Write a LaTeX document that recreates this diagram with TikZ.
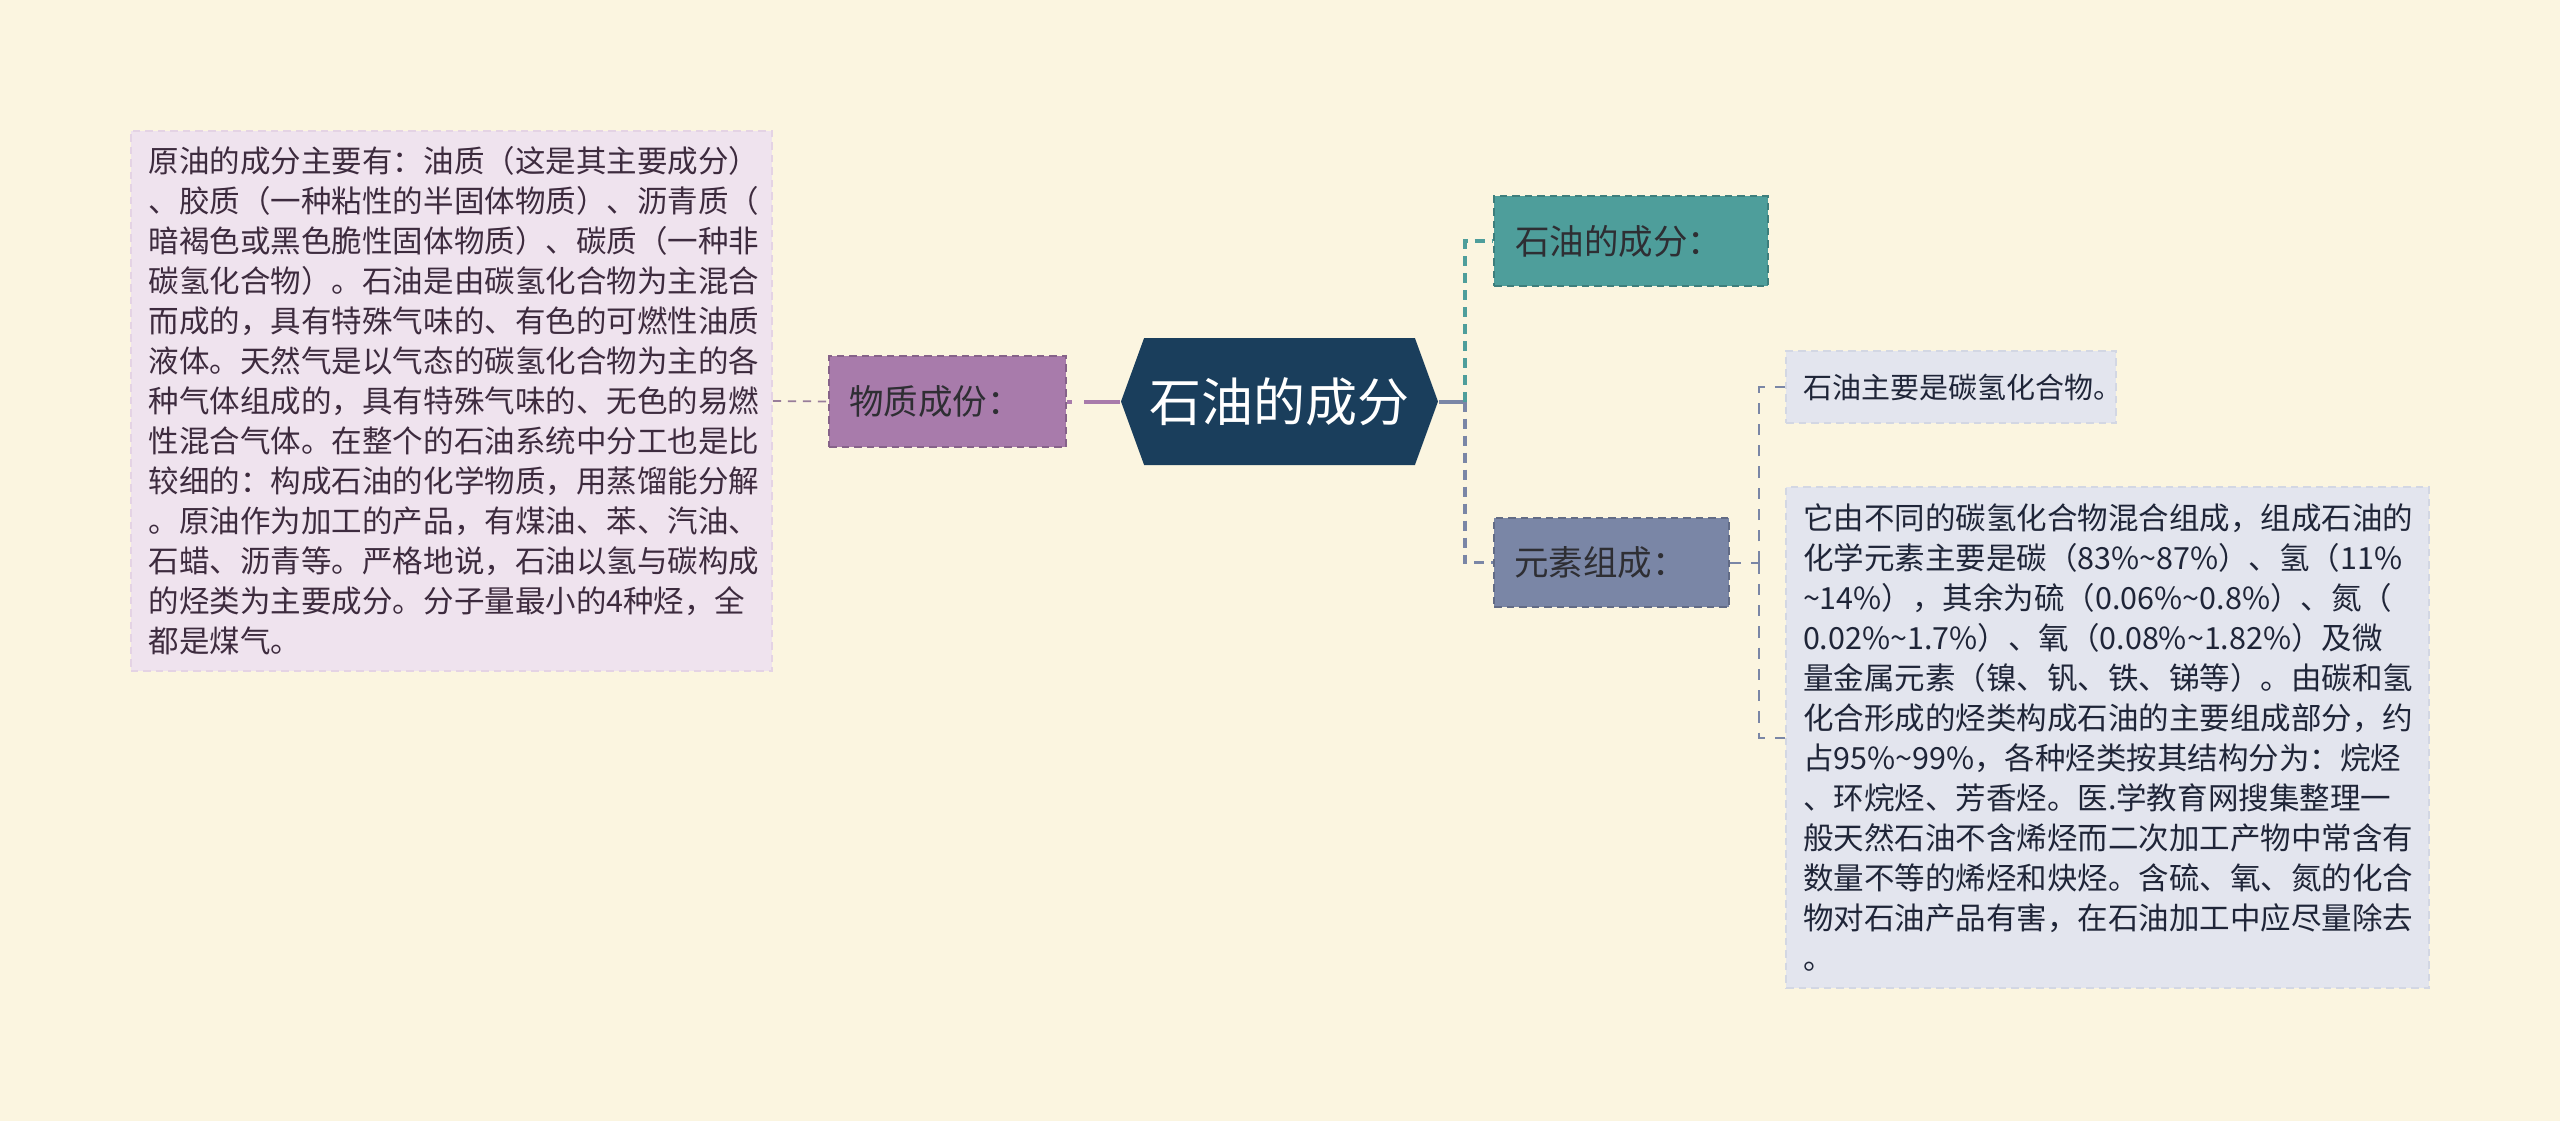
\documentclass[tikz,border=0pt]{standalone}
\usepackage{fontspec}
\newfontfamily\cjk{Noto Sans CJK SC}
\usetikzlibrary{shapes.symbols}
\definecolor{bgcream}{HTML}{FBF5E0}
\definecolor{navyc}{HTML}{1A3E5C}
\definecolor{purplec}{HTML}{A87BAB}
\definecolor{tealc}{HTML}{4E9E9B}
\definecolor{slatec}{HTML}{7A86A6}
\definecolor{lavbox}{HTML}{EFE3EE}
\definecolor{greybox}{HTML}{E3E5EE}
\definecolor{lavtxt}{HTML}{3D2B3E}
\definecolor{navytxt}{HTML}{1F2538}
\definecolor{headtxt}{HTML}{2E2E33}
\tikzset{
  box/.style={draw, dashed, dash pattern=on 3pt off 2pt, line width=0.7pt, inner xsep=8pt, inner ysep=0pt, align=left},
  head/.style={box, font=\cjk\fontsize{13.8pt}{16pt}\selectfont, text=headtxt},
  note/.style={box, font=\cjk\fontsize{12.2pt}{16pt}\selectfont},
  lnk/.style={line width=1.5pt, dash pattern=on 4pt off 2.8pt},
  sublnk/.style={line width=0.8pt, dash pattern=on 4.5pt off 4pt, draw=slatec},
}
\begin{document}
\begin{tikzpicture}[x=0.4pt, y=-0.4pt]
  \fill[bgcream] (0,0) rectangle (2560,1121);
  % centre
  \node[signal, signal to=east and west, signal pointer angle=140, fill=navyc, text=white,
    minimum width=126.8pt, minimum height=50.8pt, inner sep=0pt,
    font=\cjk\fontsize{20.8pt}{24pt}\selectfont] (zx) at (1279.5,401.5) {石油的成分};
  % left branch
  \node[head, fill=purplec, draw=purplec!80!black, minimum height=36.4pt, text width=78.8pt] (wz) at (947.5,401.5) {物质成份：};
  \node[note, fill=lavbox, draw=lavbox!85!purplec, text=lavtxt, minimum height=216pt, text width=242pt, inner xsep=7.2pt] (yl) at (451.5,401) {原油的成分主要有：油质（这是其主要成分）\\、胶质（一种粘性的半固体物质）、沥青质（\\暗褐色或黑色脆性固体物质）、碳质（一种非\\碳氢化合物）。石油是由碳氢化合物为主混合\\而成的，具有特殊气味的、有色的可燃性油质\\液体。天然气是以气态的碳氢化合物为主的各\\种气体组成的，具有特殊气味的、无色的易燃\\性混合气体。在整个的石油系统中分工也是比\\较细的：构成石油的化学物质，用蒸馏能分解\\。原油作为加工的产品，有煤油、苯、汽油、\\石蜡、沥青等。严格地说，石油以氢与碳构成\\的烃类为主要成分。分子量最小的4种烃，全\\都是煤气。};
  % right branch
  \node[head, fill=tealc, draw=tealc!80!black, minimum height=36pt, text width=92.8pt, inner xsep=8.4pt] (yf) at (1631,241) {石油的成分：};
  \node[head, fill=slatec, draw=slatec!80!black, minimum height=35.6pt, text width=78pt] (ys) at (1611.5,562.5) {元素组成：};
  \node[note, fill=greybox, draw=greybox!85!slatec, text=navytxt, font=\cjk\fontsize{11.6pt}{14pt}\selectfont, minimum height=28.8pt, text width=118.4pt, inner xsep=6.8pt] (tq) at (1951,387) {石油主要是碳氢化合物。};
  \node[note, fill=greybox, draw=greybox!85!slatec, text=navytxt, minimum height=200.4pt, text width=243.6pt, inner xsep=6.8pt] (yc) at (2107.5,737.5) {它由不同的碳氢化合物混合组成，组成石油的\\化学元素主要是碳（83\%\textasciitilde87\%）、氢（11\%\\\textasciitilde14\%），其余为硫（0.06\%\textasciitilde0.8\%）、氮（\\0.02\%\textasciitilde1.7\%）、氧（0.08\%\textasciitilde1.82\%）及微\\量金属元素（镍、钒、铁、锑等）。由碳和氢\\化合形成的烃类构成石油的主要组成部分，约\\占95\%\textasciitilde99\%，各种烃类按其结构分为：烷烃\\、环烷烃、芳香烃。医.学教育网搜集整理一\\般天然石油不含烯烃而二次加工产物中常含有\\数量不等的烯烃和炔烃。含硫、氧、氮的化合\\物对石油产品有害，在石油加工中应尽量除去\\。};
  % connectors
  \coordinate (rj) at (1465,401.5);
  \coordinate (sj) at (1759,562.5);
  \draw[line width=0.7pt, draw=purplec!60!gray, dash pattern=on 3.3pt off 2.7pt] (yl.east) -- (wz.west);
  \draw[line width=1.6pt, draw=purplec, dash pattern=on 2pt off 5pt on 40pt off 1pt] (wz.east) -- (zx.west);
  \draw[line width=1.6pt, draw=slatec] (zx.east) -- (rj);
  \draw[lnk, draw=tealc] (rj) |- (yf.west);
  \draw[lnk, draw=slatec] (rj) |- (ys.west);
  \draw[sublnk] (ys.east) -- (sj);
  \draw[sublnk] (sj) |- (tq.west);
  \draw[sublnk] (sj) |- (yc.west);
\end{tikzpicture}
\end{document}
